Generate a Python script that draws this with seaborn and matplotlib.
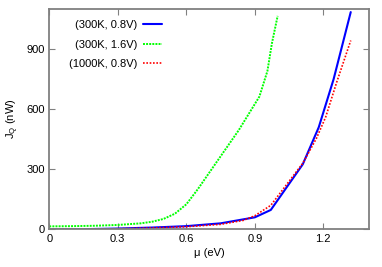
import numpy as np
import pandas as pd
import matplotlib
matplotlib.use('Agg')
import matplotlib.pyplot as plt
import seaborn as sns

# datos
mu_300_08 = [0, 0.15, 0.3, 0.45, 0.6, 0.75, 0.9, 0.97, 1.11, 1.18, 1.245, 1.32]
jq_300_08 = [0, 1, 4, 9, 16, 30, 60, 97, 325, 510, 750, 1085]

mu_300_16 = [0, 0.1, 0.2, 0.3, 0.4, 0.45, 0.5, 0.55, 0.6, 0.65, 0.83, 0.92, 0.955, 0.975, 1.0]
jq_300_16 = [15, 16, 18, 22, 30, 38, 52, 78, 125, 200, 496, 663, 790, 930, 1066]

mu_1000_08 = [0, 0.15, 0.3, 0.45, 0.6, 0.75, 0.85, 0.9, 0.97, 1.05, 1.11, 1.17, 1.21, 1.26, 1.32]
jq_1000_08 = [0, 1, 3, 7, 13, 25, 45, 68, 120, 240, 330, 455, 560, 740, 943]

labels = ['(300K, 0.8V)', '(300K, 1.6V)', '(1000K, 0.8V)']
colors = ['#0000ff', '#00ff00', '#ff0000']
x_ticks = [0, 0.3, 0.6, 0.9, 1.2]
y_ticks = [0, 300, 600, 900]

sns.set_style('ticks')
plt.rcParams['font.family'] = ['Liberation Sans', 'DejaVu Sans']
plt.rcParams['mathtext.fontset'] = 'custom'
plt.rcParams['mathtext.rm'] = 'Liberation Sans'
plt.rcParams['mathtext.it'] = 'Liberation Sans:italic'
plt.rcParams['text.color'] = 'black'
plt.rcParams['axes.labelcolor'] = 'black'
plt.rcParams['xtick.labelcolor'] = 'black'
plt.rcParams['ytick.labelcolor'] = 'black'

fig = plt.figure(figsize=(3.82, 2.67), dpi=100)
ax = fig.add_axes([0.129, 0.141, 0.837, 0.825])

sns.lineplot(x=mu_300_08, y=jq_300_08, ax=ax, color=colors[0], lw=1.5,
             label=labels[0])
sns.lineplot(x=mu_300_16, y=jq_300_16, ax=ax, color=colors[1], lw=1.4,
             linestyle=(0, (1.0, 0.6)), label=labels[1])
sns.lineplot(x=mu_1000_08, y=jq_1000_08, ax=ax, color=colors[2], lw=1.2,
             linestyle=(0, (1.0, 1.0)), label=labels[2])

ax.set_xlim(0, 1.4)
ax.set_ylim(0, 1100)
ax.set_xticks(x_ticks)
ax.set_xticklabels(['0', '0.3', '0.6', '0.9', '1.2'])
ax.set_yticks(y_ticks)
ax.tick_params(direction='in', length=4, width=0.8, color='#808080',
               labelsize=8, top=True, right=True, pad=3)
for s in ax.spines.values():
    s.set_color('#808080')
    s.set_linewidth(1.3)

ax.set_xlabel('μ (eV)', fontsize=8, labelpad=3)
ax.set_ylabel(r'J$_\mathrm{Q}$ (nW)', fontsize=8, labelpad=4)

leg = ax.legend(loc='upper left', bbox_to_anchor=(0.03, 0.995), frameon=False,
                markerfirst=False, fontsize=8, handlelength=1.75,
                labelspacing=0.85, handletextpad=0.5)
for t in leg.get_texts():
    t.set_ha('right')
leg._legend_box.align = 'right'

plt.savefig('out.png', dpi=100)
plt.close()
